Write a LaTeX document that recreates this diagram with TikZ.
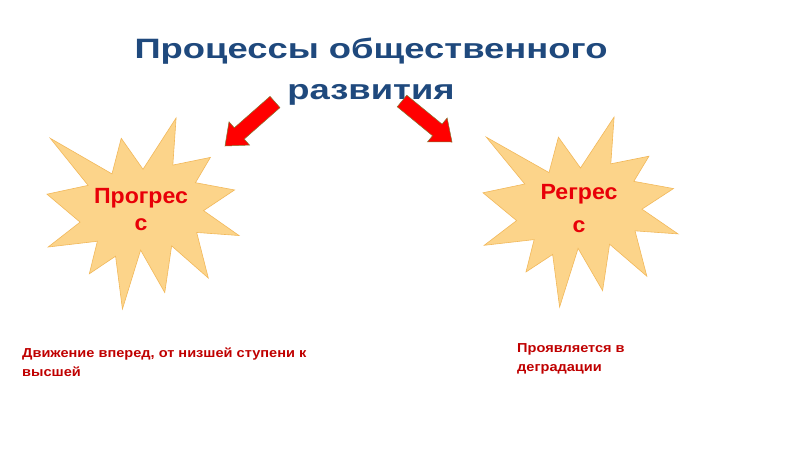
\documentclass[tikz,border=0pt]{standalone}
\usepackage{fontspec}
\setmainfont{Liberation Sans}
\newfontfamily\titlefont[FakeStretch=1.30]{Liberation Sans}
\newfontfamily\sealfont[FakeStretch=1.05]{Liberation Sans}
\newfontfamily\notefont[FakeStretch=1.12]{Liberation Sans}
\usetikzlibrary{calc}
\definecolor{titleblue}{RGB}{31,73,125}
\definecolor{sealfill}{RGB}{252,212,138}
\definecolor{sealedge}{RGB}{242,184,90}
\definecolor{sealtext}{RGB}{232,0,8}
\definecolor{arrowred}{RGB}{255,0,0}
\definecolor{arrowedge}{RGB}{130,120,50}
\definecolor{notered}{RGB}{192,0,0}
\tikzset{
  sealshape/.style={fill=sealfill, draw=sealedge, line width=0.6pt, line join=miter},
  sealtxt/.style={text=sealtext, font=\sealfont\bfseries\fontsize{22}{27}\selectfont, align=center, inner sep=0pt, anchor=north},
  titletxt/.style={text=titleblue, font=\titlefont\bfseries\fontsize{28}{41}\selectfont, align=center, inner sep=0pt, anchor=north},
  notetxt/.style={text=notered, font=\notefont\bfseries\fontsize{13}{19}\selectfont, align=left, inner sep=0pt, anchor=north west},
  blockarrow/.style={fill=arrowred, draw=arrowedge, line width=0.5pt, line join=miter},
}
\newcommand{\sealpath}{(108,58) -- (145.22,0) -- (141.55,53.25) -- (183.80,44.57) -- (167.02,73.15) -- (210.97,81.37) -- (176.07,104.75) -- (216,132.90) -- (168.37,129.42) -- (181.45,180.95) -- (140.20,144.57) -- (132.47,197.37) -- (105.32,149.35) -- (84.85,216) -- (77.15,156.27) -- (47.62,176.17) -- (56.67,139.37) -- (1.35,145.87) -- (37.22,117.75) -- (0,86.15) -- (46.27,76.17) -- (3.70,22.95) -- (73.12,63.20) -- (83.52,22.95) -- cycle}
\newcommand{\mkarrow}[2]{%
  \coordinate (#2-base) at ($(#2)!19pt!(#1)$);
  \draw[blockarrow] ($(#1)!7.5pt!90:(#2)$) -- ($(#2-base)!7.5pt!-90:(#1)$) -- ($(#2-base)!15.5pt!-90:(#1)$) -- (#2) -- ($(#2-base)!15.5pt!90:(#1)$) -- ($(#2-base)!7.5pt!90:(#1)$) -- ($(#1)!7.5pt!-90:(#2)$) -- cycle;}
\begin{document}
\begin{tikzpicture}[x=1pt,y=-1pt]
\useasboundingbox[fill=white] (0,0) rectangle (800,450);
% title
\node[titletxt] (title) at (371,38) {Процессы общественного\\развития};
% seals
\begin{scope}[shift={(47,118)}, x=0.8889pt, y=-0.8843pt]
  \draw[sealshape] \sealpath;
\end{scope}
\begin{scope}[shift={(483,117)}, x=0.9028pt, y=-0.8796pt]
  \draw[sealshape] \sealpath;
\end{scope}
\node[sealtxt] (progress) at (141,188) {Прогрес\\с};
\node[sealtxt, font=\sealfont\bfseries\fontsize{22}{33}\selectfont] (regress) at (579,184) {Регрес\\с};
% arrows
\coordinate (tailL) at (275,102);
\coordinate (tipL) at (225,146);
\coordinate (tailR) at (402,101);
\coordinate (tipR) at (452,142);
\mkarrow{tailL}{tipL}
\mkarrow{tailR}{tipR}
% notes
\node[notetxt] (note1) at (22,348) {Движение вперед, от низшей ступени к\\высшей};
\node[notetxt] (note2) at (517,343) {Проявляется в\\деградации};
\end{tikzpicture}
\end{document}
